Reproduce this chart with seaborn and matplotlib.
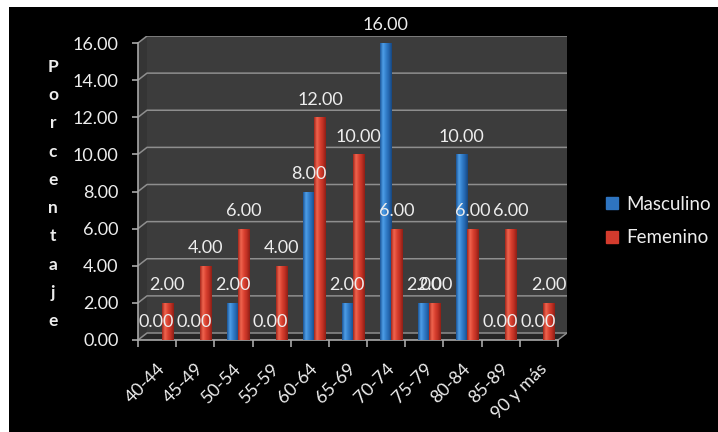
import numpy as np
import pandas as pd
import matplotlib
matplotlib.use("Agg")
import matplotlib.pyplot as plt
import seaborn as sns
from matplotlib.patches import Rectangle, Polygon
from matplotlib.lines import Line2D
from matplotlib.colors import LinearSegmentedColormap

# ---------------- data ----------------
categories = ["40-44", "45-49", "50-54", "55-59", "60-64", "65-69",
              "70-74", "75-79", "80-84", "85-89", "90 y más"]
masculino = [0, 0, 2, 0, 8, 2, 16, 2, 10, 0, 0]
femenino = [2, 4, 6, 4, 12, 10, 6, 2, 6, 6, 2]
series_names = ["Masculino", "Femenino"]
yticks = [0, 2, 4, 6, 8, 10, 12, 14, 16]
ylabel = "Porcentaje"

# ---------------- style ----------------
sns.set_theme(style="white")
plt.rcParams['font.family'] = ['Lato', 'DejaVu Sans']

BLUE = "#2E74C0"
RED = "#D43B2D"
TXT = "#EDEDED"
GRID = "#8E8E8E"

W, H = 718, 432
fig = plt.figure(figsize=(W / 100, H / 100), dpi=100, facecolor="white")
fig.patches.append(Rectangle((9 / W, 0), 1 - 9 / W, 1 - 7 / H,
                             transform=fig.transFigure, facecolor="black",
                             edgecolor="none", zorder=-10))

# geometry (pixels)
x_front_left, x_front_right = 138, 558
y_zero, y_top16 = 340, 43
ncat = len(categories)
px_cat = (x_front_right - x_front_left) / ncat
px_unit = (y_zero - y_top16) / 16.0
dx = 9 / px_cat          # depth offset in category units
dy = 7 / px_unit         # depth offset in value units
ymax = 16 + dy + 0.02
xmin, xmax = -0.5, ncat - 0.5 + dx

left = x_front_left / W
width = (x_front_right + 9 - x_front_left) / W
bottom = (H - y_zero) / H
height = ymax * px_unit / H
ax = fig.add_axes([left, bottom, width, height])
ax.set_facecolor("none")

# walls of the 3D box
ax.add_patch(Polygon([(xmin + dx, dy), (ncat - 0.5 + dx, dy),
                      (ncat - 0.5 + dx, 16 + dy), (xmin + dx, 16 + dy)],
                     closed=True, facecolor="#3C3C3C", edgecolor="none", zorder=0))
ax.add_patch(Polygon([(xmin, 0), (xmin + dx, dy), (xmin + dx, 16 + dy), (xmin, 16)],
                     closed=True, facecolor="#353535", edgecolor="none", zorder=0))
ax.add_patch(Polygon([(xmin, 0), (ncat - 0.5, 0), (ncat - 0.5 + dx, dy), (xmin + dx, dy)],
                     closed=True, facecolor="#262626", edgecolor="none", zorder=1))
for v in yticks:
    ax.plot([xmin, xmin + dx, ncat - 0.5 + dx], [v, v + dy, v + dy],
            color=GRID, lw=1.1, zorder=1, solid_capstyle="butt")
ax.plot([ncat - 0.5, ncat - 0.5 + dx], [0, dy], color=GRID, lw=1, zorder=1)

# bars
shift = 0.12
df = pd.DataFrame({
    "pos": np.concatenate([np.arange(ncat) + shift, np.arange(ncat) + shift]),
    "valor": masculino + femenino,
    "sexo": [series_names[0]] * ncat + [series_names[1]] * ncat,
})
sns.barplot(data=df, x="pos", y="valor", hue="sexo", native_scale=True,
            width=0.58, palette=[BLUE, RED], saturation=1, legend=False,
            ax=ax, zorder=3, edgecolor="none")

# cylinder-like shading on each bar
cmaps = [
    LinearSegmentedColormap.from_list("b", ["#1B5496", "#4F9FE8", "#3480CC", "#2466AE", "#17477F"]),
    LinearSegmentedColormap.from_list("r", ["#A3261B", "#F0654F", "#DA4231", "#BE3023", "#8E1F16"]),
]
profile = np.linspace(0, 1, 64)[None, :]
for cont, cm in zip(ax.containers, cmaps):
    for bar in cont:
        h = bar.get_height()
        if h <= 0:
            continue
        x0 = bar.get_x()
        im = ax.imshow(profile, extent=[x0, x0 + bar.get_width(), 0, h],
                       cmap=cm, aspect="auto", zorder=3.5, interpolation="bilinear")
        im.set_clip_path(bar)

for cont in ax.containers:
    ax.bar_label(cont, fmt="%.2f", padding=7, color=TXT, fontsize=13, zorder=6)

ax.set_xlim(xmin, xmax)
ax.set_ylim(0, ymax)
ax.set_xlabel("")
ax.set_ylabel("")

# axes / ticks
for s in ["top", "right"]:
    ax.spines[s].set_visible(False)
ax.spines["left"].set_bounds(0, 16)
ax.spines["bottom"].set_bounds(xmin, ncat - 0.5)
for s in ["left", "bottom"]:
    ax.spines[s].set_color("#A8A8A8")
    ax.spines[s].set_linewidth(1.2)
    ax.spines[s].set_zorder(2)

ax.set_yticks(yticks, [f"{v:.2f}" for v in yticks])
ax.tick_params(axis="y", which="major", direction="out", length=4, width=1.2,
               color="#A8A8A8", labelcolor=TXT, labelsize=13, pad=10, left=True)
ax.set_xticks(np.arange(ncat + 1) - 0.5, [""] * (ncat + 1))
ax.tick_params(axis="x", which="major", direction="out", length=5, width=1.2,
               color="#A8A8A8", bottom=True)
ax.set_xticks(np.arange(ncat) + 0.14, categories, minor=True)
ax.tick_params(axis="x", which="minor", length=0, pad=19, labelsize=13,
               labelcolor=TXT)
for lab in ax.get_xticklabels(minor=True):
    lab.set_rotation(45)
    lab.set_ha("right")
    lab.set_va("center")
    lab.set_rotation_mode("anchor")

# stacked y label
fig.text(53 / W, 1 - 194 / H, "\n".join(ylabel), ha="center", va="center",
         fontsize=12.5, fontweight="bold", color=TXT, linespacing=1.94)

# legend
handles = [Line2D([0], [0], marker="s", ls="none", markersize=8,
                  markerfacecolor=c, markeredgecolor=c) for c in (BLUE, RED)]
leg = fig.legend(handles, series_names, loc="center left",
                 bbox_to_anchor=(595 / W, 1 - 221 / H), frameon=False,
                 fontsize=13.5, labelcolor=TXT, handlelength=0.8,
                 handletextpad=0.35, labelspacing=0.9, borderpad=0)

fig.savefig("out.png", dpi=100, facecolor="white")
